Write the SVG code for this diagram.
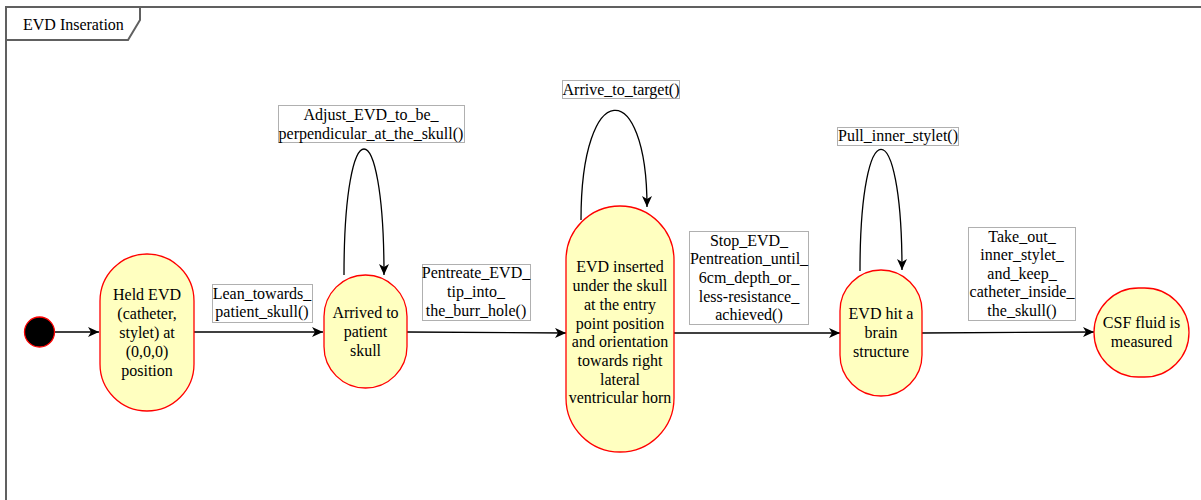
<svg xmlns="http://www.w3.org/2000/svg" width="1201" height="500" viewBox="0 0 1201 500" font-family="Liberation Serif, Times New Roman, serif" font-size="16">
<style>
.frame{fill:none;stroke:#606060;stroke-width:2}
.node rect{fill:#FFFFC0;stroke:#FF0000;stroke-width:1.3}
text{fill:#000;text-anchor:middle}
.lbl rect{fill:#fff;stroke:#b0b0b0;stroke-width:1}
.edge{fill:none;stroke:#000;stroke-width:1.3}
</style>
<defs>
<marker id="arr" markerWidth="12" markerHeight="10" refX="11" refY="5" orient="auto" markerUnits="userSpaceOnUse">
<path d="M0,0 L11,5 L0,10 L3,5 z" fill="#000"/>
</marker>
</defs>
<rect width="1201" height="500" fill="#fff"/>
<g id="frame">
<path class="frame" d="M1201,7 L6,7 L6,500"/>
<path class="frame" d="M6,40 L128,40 L140,20 L140,7"/>
<text x="23" y="30" font-family="Liberation Serif" style="text-anchor:start">EVD Inseration</text>
</g>
<g id="connectors">
<path class="edge" d="M55,332 L99,332" marker-end="url(#arr)"/>
<path class="edge" d="M194,332 L323,332" marker-end="url(#arr)"/>
<path class="edge" d="M344,275 C344,107 384,107 384,275" marker-end="url(#arr)"/>
<path class="edge" d="M407,332 L566,333" marker-end="url(#arr)"/>
<path class="edge" d="M581,220 C581,76 647,76 647,207" marker-end="url(#arr)"/>
<path class="edge" d="M674,333 L840,333" marker-end="url(#arr)"/>
<path class="edge" d="M860,271 C860,109 902,109 902,270" marker-end="url(#arr)"/>
<path class="edge" d="M922,333 L1094,332" marker-end="url(#arr)"/>
</g>
<g id="labels">
<g class="lbl" id="lbl-lean"><rect x="212.5" y="284.5" width="100" height="38"/><text x="262" y="299">Lean_towards_</text><text x="262" y="317">patient_skull()</text></g>
<g class="lbl" id="lbl-adjust"><rect x="278.5" y="105.5" width="186" height="37"/><text x="371" y="120">Adjust_EVD_to_be_</text><text x="371" y="139">perpendicular_at_the_skull()</text></g>
<g class="lbl" id="lbl-pentreate"><rect x="422.5" y="264.5" width="108" height="56"/><text x="476" y="278">Pentreate_EVD_</text><text x="476" y="297">tip_into_</text><text x="476" y="316">the_burr_hole()</text></g>
<g class="lbl" id="lbl-arrive"><rect x="562.5" y="80.5" width="117" height="18"/><text x="621" y="95">Arrive_to_target()</text></g>
<g class="lbl" id="lbl-stop"><rect x="689.5" y="231.5" width="119" height="93"/><text x="749" y="246">Stop_EVD_</text><text x="749" y="264">Pentreation_until_</text><text x="749" y="283">6cm_depth_or_</text><text x="749" y="302">less-resistance_</text><text x="749" y="320">achieved()</text></g>
<g class="lbl" id="lbl-pull"><rect x="837.5" y="127.5" width="121" height="18"/><text x="898" y="141">Pull_inner_stylet()</text></g>
<g class="lbl" id="lbl-take"><rect x="968.5" y="227.5" width="107" height="93"/><text x="1022" y="242">Take_out_</text><text x="1022" y="260">inner_stylet_</text><text x="1022" y="279">and_keep_</text><text x="1022" y="297">catheter_inside_</text><text x="1022" y="316">the_skull()</text></g>
</g>
<g id="start"><circle cx="39.5" cy="332" r="15" fill="#000" stroke="#FF0000" stroke-width="1.3"/></g>
<g class="node" id="held"><rect x="100" y="254" width="94" height="157" rx="47" ry="47"/><text x="147" y="300">Held EVD</text><text x="147" y="319">(catheter,</text><text x="147" y="338">stylet) at</text><text x="147" y="357">(0,0,0)</text><text x="147" y="376">position</text></g>
<g class="node" id="arrived"><rect x="324" y="275" width="83" height="113" rx="41.5" ry="41.5"/><text x="365.5" y="318">Arrived to</text><text x="365.5" y="337">patient</text><text x="365.5" y="356">skull</text></g>
<g class="node" id="inserted"><rect x="566" y="206" width="108" height="246" rx="54" ry="54"/><text x="620" y="272">EVD inserted</text><text x="620" y="291">under the skull</text><text x="620" y="310">at the entry</text><text x="620" y="329">point position</text><text x="620" y="347">and orientation</text><text x="620" y="366">towards right</text><text x="620" y="385">lateral</text><text x="620" y="403">ventricular horn</text></g>
<g class="node" id="hit"><rect x="840" y="270" width="82" height="126" rx="41" ry="41"/><text x="881" y="319">EVD hit a</text><text x="881" y="338">brain</text><text x="881" y="357">structure</text></g>
<g class="node" id="csf"><rect x="1094" y="288" width="95" height="89" rx="44.5" ry="44.5"/><text x="1141.5" y="328">CSF fluid is</text><text x="1141.5" y="347">measured</text></g>
</svg>
